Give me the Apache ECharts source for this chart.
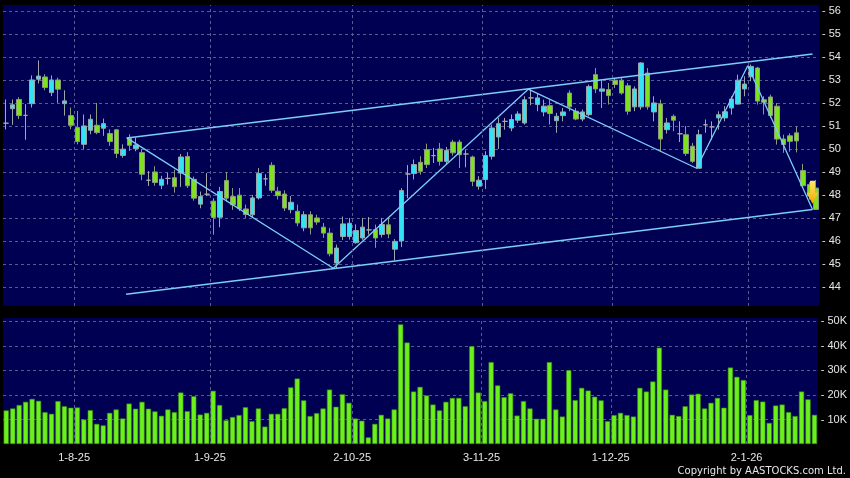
<!DOCTYPE html>
<html><head><meta charset="utf-8">
<script src="https://cdn.jsdelivr.net/npm/echarts@6/dist/echarts.min.js"></script>
<style>html,body{margin:0;padding:0;background:#000;}#c{width:850px;height:478px;}</style>
</head><body><div id="c"></div>
<script>
const dates = [
'17-7-25','18-7-25','21-7-25','22-7-25','23-7-25','24-7-25','25-7-25','28-7-25','29-7-25','30-7-25','31-7-25',
'1-8-25','4-8-25','5-8-25','6-8-25','7-8-25','8-8-25','11-8-25','12-8-25','13-8-25','14-8-25','15-8-25','18-8-25','19-8-25','20-8-25','21-8-25','22-8-25','25-8-25','26-8-25','27-8-25','28-8-25','29-8-25',
'1-9-25','2-9-25','3-9-25','4-9-25','5-9-25','8-9-25','9-9-25','10-9-25','11-9-25','12-9-25','15-9-25','16-9-25','17-9-25','18-9-25','19-9-25','22-9-25','23-9-25','24-9-25','25-9-25','26-9-25','29-9-25','30-9-25',
'2-10-25','3-10-25','6-10-25','8-10-25','9-10-25','10-10-25','13-10-25','14-10-25','15-10-25','16-10-25','17-10-25','20-10-25','21-10-25','22-10-25','23-10-25','24-10-25','27-10-25','28-10-25','30-10-25','31-10-25',
'3-11-25','4-11-25','5-11-25','6-11-25','7-11-25','10-11-25','11-11-25','12-11-25','13-11-25','14-11-25','17-11-25','18-11-25','19-11-25','20-11-25','21-11-25','24-11-25','25-11-25','26-11-25','27-11-25','28-11-25',
'1-12-25','2-12-25','3-12-25','4-12-25','5-12-25','8-12-25','9-12-25','10-12-25','11-12-25','12-12-25','15-12-25','16-12-25','17-12-25','18-12-25','19-12-25','22-12-25','23-12-25','24-12-25','29-12-25','30-12-25','31-12-25',
'2-1-26','5-1-26','6-1-26','7-1-26','8-1-26','9-1-26','12-1-26','13-1-26','14-1-26','15-1-26','16-1-26'
];
const tickLabels = ['1-8-25','1-9-25','2-10-25','3-11-25','1-12-25','2-1-26'];

const opens = [
51.12,51.75,52.15,51.46,51.97,53.03,53.13,52.45,53.0,51.97,
51.45,50.93,50.2,50.81,51.03,50.9,50.67,50.83,49.72,50.46,
50.01,49.84,48.64,49.0,48.42,48.72,48.75,48.95,49.67,48.68,
47.6,48.03,47.73,47.03,48.63,47.93,47.99,47.39,47.14,47.87,
48.7,49.29,48.16,48.04,47.36,47.29,46.57,47.14,47.0,46.6,
46.34,45.04,46.19,46.19,45.92,46.13,46.48,46.49,46.28,46.7,
45.64,46.0,48.91,48.93,49.42,49.97,49.71,50.0,49.46,50.3,
50.3,49.78,49.65,48.38,48.67,49.68,50.52,51.2,50.91,51.25,
51.13,52.22,51.93,51.61,51.88,51.23,51.45,52.43,51.64,51.3,
51.49,53.23,52.51,52.58,52.99,52.99,52.75,51.83,51.83,53.3,
51.61,51.96,50.84,51.42,50.66,50.62,50.12,49.16,51.05,50.96,
51.35,51.35,51.78,51.95,52.61,53.14,53.52,52.14,52.26,51.86,
50.43,50.57,50.7,49.06,48.45,48.3
];
const closes = [
51.12,51.92,51.45,51.46,53.0,53.17,52.67,53.0,52.6,52.09,
51.03,50.32,51.0,51.29,50.71,51.1,50.32,49.8,49.99,50.16,
50.17,48.9,48.64,48.54,48.68,48.72,48.36,49.65,48.4,47.86,
47.93,48.03,47.02,48.15,47.86,47.57,47.4,47.15,47.87,48.93,
48.7,48.2,47.97,47.43,47.68,46.78,47.14,46.57,46.82,46.34,
45.44,45.69,46.74,46.77,46.45,46.6,46.48,46.13,46.71,46.3,
45.98,48.19,48.91,49.32,49.03,49.32,49.71,49.46,49.94,49.83,
49.75,49.78,48.59,48.64,49.71,50.91,51.1,51.2,51.28,51.52,
52.14,52.22,52.22,51.86,51.54,51.42,51.61,51.83,51.3,51.61,
52.72,52.61,52.61,52.32,52.8,52.43,51.64,52.61,53.74,51.83,
52.0,50.43,51.13,51.25,50.66,49.8,49.46,50.62,51.05,50.96,
51.49,51.62,52.17,52.99,52.82,53.59,52.08,52.03,51.45,50.43,
50.19,50.33,50.35,48.4,47.95,47.37
];
const lows = [
50.85,51.05,51.3,50.4,51.8,52.85,52.55,52.3,52.0,51.45,
50.86,50.2,50.0,50.64,50.64,50.57,50.13,49.6,49.62,49.91,
49.9,48.64,48.39,48.4,48.25,48.45,48.1,48.35,48.3,47.75,
47.42,47.95,46.27,46.6,47.71,47.35,47.3,47.0,47.0,47.8,
48.4,48.09,47.8,47.3,47.2,46.64,46.42,46.28,46.7,46.13,
45.33,44.82,46.04,46.06,45.88,46.05,46.28,45.7,46.15,46.12,
45.15,45.73,47.86,48.67,48.88,49.17,49.39,49.28,49.32,49.71,
49.17,49.2,48.38,48.23,48.26,49.54,50.0,50.84,50.77,51.13,
51.06,51.9,51.64,51.42,51.06,50.7,51.2,51.64,51.25,51.2,
51.42,52.43,51.78,51.93,52.65,52.36,51.49,51.64,51.71,51.71,
51.2,49.9,50.67,50.77,50.3,49.7,49.39,49.16,50.7,50.4,
50.84,51.2,51.49,51.93,52.29,52.94,51.93,51.5,51.35,50.19,
49.83,49.88,49.85,48.35,47.8,47.35
];
const highs = [
52.15,52.15,52.25,51.95,53.2,53.85,53.25,53.2,53.1,52.55,
51.8,51.65,51.5,51.5,52.0,51.32,50.85,50.86,50.2,50.64,
50.49,50.0,49.04,49.25,48.83,48.97,49.1,49.78,49.86,48.8,
48.15,48.95,47.86,48.35,49.0,48.3,48.3,47.58,48.0,49.17,
48.9,49.42,48.35,48.2,47.95,47.58,47.29,47.29,47.14,46.78,
46.57,45.84,47.06,47.0,46.72,47.0,47.04,46.71,47.0,47.0,
46.08,48.3,49.3,49.54,49.68,50.23,50.04,50.26,50.09,50.4,
50.4,49.97,49.71,48.81,49.9,51.06,51.35,51.35,51.5,51.64,
52.29,52.6,52.43,52.14,52.14,51.57,51.78,52.55,51.78,51.71,
52.8,53.52,53.01,52.87,53.09,53.09,52.87,52.72,53.77,53.52,
52.29,52.14,51.35,51.5,51.2,51.0,50.26,50.84,51.28,51.2,
51.64,51.86,52.29,53.23,53.16,53.67,53.57,52.29,52.36,52.0,
50.62,50.68,50.98,49.35,48.55,48.65
];
const volumes = [
13700,14500,15900,17200,18400,17600,13000,12300,17500,15400,
14800,14900,10000,13800,8200,7600,12700,14100,10400,16500,
14400,17200,14400,13300,11500,14100,13000,21000,13400,19500,
12000,12700,21700,15900,9700,11000,11800,15000,9300,14500,
7100,12300,12300,14600,23100,26700,17800,11400,12600,14500,
22200,15200,20300,16800,10400,9500,2700,8200,11900,10400,
14100,48800,41400,21400,23300,19800,16100,13700,17200,18800,
18800,15400,39900,21000,17500,33400,23900,19100,20700,11600,
17500,14500,10300,10300,33400,14100,11200,30100,17900,22900,
21800,19300,17800,9300,11800,12700,11800,11200,22900,21400,
25500,39300,22200,11900,11400,15400,20200,20500,14500,16800,
18800,14800,31200,27400,26100,11800,17900,17300,8600,15700,
16100,13000,11400,21400,18200,11900
];
// trend lines in (candle index, price) space
const upperChannel = [[18.6, 50.48], [124.5, 54.13]];
const lowerChannel = [[18.5, 43.68], [124.5, 47.37]];
const zigzag = [[18.6, 50.48], [50.5, 44.81], [80.6, 52.6], [106.6, 49.16], [114.5, 53.62], [124.5, 47.37]];
const arrowPoint = [124.5, 48.12];

const UP = '#33e3f3', DOWN = '#7fe21f', DOJI = '#a8a8a8';
const GRIDC = '#5a5a8e', NAVY = '#000052', LBL = '#e6e6e6', TREND = '#7ccdf4';
const FONT = '"Liberation Sans", Arial, sans-serif';
const tickSet = new Set(tickLabels);
const boundaries = tickLabels.map(t => dates.indexOf(t) - 0.5);
const N = dates.length;

const candleData = dates.map((d, i) => {
  const v = [opens[i], closes[i], lows[i], highs[i]];
  if (opens[i] === closes[i]) {
    return { value: v, itemStyle: { color: DOJI, color0: DOJI, borderColor: DOJI, borderColor0: DOJI } };
  }
  return v;
});

const vLines = (xi, yi) => ({
  type: 'line', xAxisIndex: xi, yAxisIndex: yi, data: [], z: 1, silent: true,
  markLine: {
    silent: true, symbol: 'none', animation: false, label: { show: false },
    lineStyle: { color: GRIDC, type: [3, 3], width: 1 },
    emphasis: { disabled: true },
    data: boundaries.map(b => ({ xAxis: b }))
  }
});

const chart = echarts.init(document.getElementById('c'), null, { renderer: 'canvas' });
chart.setOption({
  animation: false,
  backgroundColor: '#000',
  grid: [
    { left: 3, right: 31, top: 5, height: 301, show: true, backgroundColor: NAVY, borderWidth: 0 },
    { left: 3, right: 31, top: 318, height: 126, show: true, backgroundColor: NAVY, borderWidth: 0 }
  ],
  xAxis: [
    { type: 'category', gridIndex: 0, data: dates, boundaryGap: true,
      axisLine: { show: false }, axisTick: { show: false }, axisLabel: { show: false }, splitLine: { show: false } },
    { type: 'value', gridIndex: 0, min: -0.5, max: N - 0.5, show: false },
    { type: 'category', gridIndex: 1, data: dates, boundaryGap: true,
      axisLine: { show: false }, axisTick: { show: false }, splitLine: { show: false },
      axisLabel: {
        interval: (i, v) => tickSet.has(v), margin: 8, color: LBL, fontSize: 11, fontFamily: FONT,
        formatter: v => '{a|' + v + '}',
        rich: { a: { padding: [0, 6.5, 0, 0], color: LBL, fontSize: 11, fontFamily: FONT } }
      } },
    { type: 'value', gridIndex: 1, min: -0.5, max: N - 0.5, show: false }
  ],
  yAxis: [
    { type: 'value', gridIndex: 0, position: 'right', min: 43.17, max: 56.26, splitNumber: 13, scale: true,
      axisLine: { show: false }, axisTick: { show: false },
      axisLabel: { margin: 3, color: LBL, fontSize: 11, fontFamily: FONT, showMinLabel: false, showMaxLabel: false,
        formatter: v => Number.isInteger(v) ? '- ' + v : '' },
      splitLine: { show: true, showMinLine: false, showMaxLine: false, lineStyle: { color: GRIDC, type: [3, 3], width: 1 } } },
    { type: 'value', gridIndex: 1, position: 'right', min: 0, max: 51400, splitNumber: 5,
      axisLine: { show: false }, axisTick: { show: false },
      axisLabel: { margin: 3, color: LBL, fontSize: 11, fontFamily: FONT, showMinLabel: false, showMaxLabel: false,
        formatter: v => (v > 0 && v % 10000 === 0) ? '- ' + (v / 1000) + 'K' : '' },
      splitLine: { show: true, showMinLine: false, showMaxLine: false, lineStyle: { color: GRIDC, type: [3, 3], width: 1 } } }
  ],
  series: [
    vLines(1, 0),
    vLines(3, 1),
    { type: 'candlestick', xAxisIndex: 0, yAxisIndex: 0, data: candleData, barWidth: 5, z: 2,
      itemStyle: { color: UP, color0: DOWN, borderColor: '#9aa6a8', borderColor0: '#8c9a80', borderColorDoji: DOJI, borderWidth: 1 } },
    { type: 'bar', xAxisIndex: 2, yAxisIndex: 1, data: volumes, barWidth: 5.2, z: 2,
      itemStyle: { color: '#6cf01c', borderColor: '#3b8a14', borderWidth: 0.6 } },
    { type: 'line', xAxisIndex: 1, yAxisIndex: 0, data: upperChannel, symbol: 'none', z: 3, silent: true,
      lineStyle: { color: TREND, width: 1.5 } },
    { type: 'line', xAxisIndex: 1, yAxisIndex: 0, data: lowerChannel, symbol: 'none', z: 3, silent: true,
      lineStyle: { color: TREND, width: 1.5 } },
    { type: 'line', xAxisIndex: 1, yAxisIndex: 0, data: zigzag, symbol: 'none', z: 3, silent: true,
      lineStyle: { color: TREND, width: 1.3 },
      markPoint: {
        silent: true, animation: false,
        symbol: 'path://M3.5,0L8.5,0L8.5,12L12,12L6,23L0,12L3.5,12Z', symbolSize: [12, 23],
        label: { show: false },
        itemStyle: { color: new echarts.graphic.LinearGradient(0, 0, 0, 1, [
          { offset: 0, color: '#ffe866' }, { offset: 1, color: '#eeaa00' }]) },
        data: [{ coord: arrowPoint }]
      } }
  ],
  graphic: [
    { type: 'text', right: 4, top: 466, silent: true,
      style: { text: 'Copyright by AASTOCKS.com Ltd.', fill: LBL, font: '10px "DejaVu Sans", sans-serif' } }
  ]
});
</script>
</body></html>
